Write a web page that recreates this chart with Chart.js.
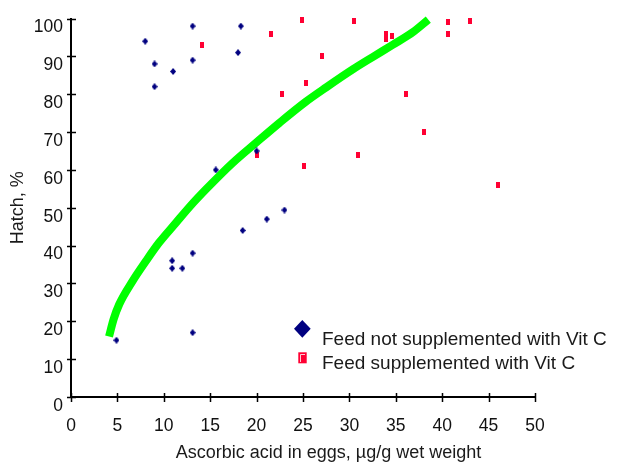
<!DOCTYPE html>
<html lang="en">
<head>
   <meta charset="UTF-8">
   <title>Hatch vs ascorbic acid</title>
   <script src="https://cdn.jsdelivr.net/npm/chart.js"></script>
   <style>
       body { margin: 0; background: #fff; }
       #wrap { width: 617px; height: 464px; }
   </style>
</head>
<body>
   <div id="wrap">
       <canvas id="hatchChart" width="617" height="464"></canvas>
   </div>

   <script>
       // values
       const notSuppX = [8, 9, 9, 11, 13.1, 13.1, 18.3, 18, 20, 15.6, 18.5, 21.1, 23, 10.9, 10.9, 12, 13.1, 13.1, 4.9];
       const notSuppY = [94, 88, 82, 86, 98, 89, 98, 91, 65, 60, 44, 47, 49.4, 36, 34, 34, 38, 17, 15];

       const suppX = [14.1, 21.6, 24.9, 25.3, 22.7, 20, 25.1, 30.5, 33.9, 33.9, 34.6, 40.6, 40.6, 43, 27, 36.1, 38, 30.9, 46];
       const suppY = [93, 96, 99.7, 83, 80, 64, 61, 99.4, 96, 94.5, 95.5, 99, 96, 99.4, 90, 80, 70, 64, 56];

       // fitted trend line
       const trendX = [4.1, 4.6, 5.2, 6.6, 8.1, 9.5, 11.3, 12.8, 14.6, 17.4, 20.0, 22.5, 25.3, 27.5, 30.4, 32.5, 34.7, 36.9, 38.5];
       const trendY = [16, 20.6, 24.5, 30.5, 36, 40.8, 46, 50.3, 55, 61.8, 67.3, 72.5, 78, 81.8, 86.6, 89.8, 93.1, 96.5, 99.7];

       const xTicks = [0, 5, 10, 15, 20, 25, 30, 35, 40, 45, 50];
       const yTicks = [0, 10, 20, 30, 40, 50, 60, 70, 80, 90, 100];

       const seriesNames = ['Feed not supplemented with Vit C', 'Feed supplemented with Vit C'];
       const xTitle = 'Ascorbic acid in eggs, \u00b5g/g wet weight';
       const yTitle = 'Hatch, %';

       const NAVY = '#000080';
       const RED = '#ff0033';
       const FONT = '"Liberation Sans", Arial, sans-serif';

       function toPoints(xs, ys) {
           return xs.map((x, i) => ({ x: x, y: ys[i] }));
       }

       // small marker images
       function diamond(w, h, color) {
           const c = document.createElement('canvas');
           c.width = w; c.height = h;
           const g = c.getContext('2d');
           g.fillStyle = color;
           g.beginPath();
           g.moveTo(w / 2, 0);
           g.lineTo(w, h / 2);
           g.lineTo(w / 2, h);
           g.lineTo(0, h / 2);
           g.closePath();
           g.fill();
           return c;
       }

       function block(w, h, color) {
           const c = document.createElement('canvas');
           c.width = w; c.height = h;
           const g = c.getContext('2d');
           g.fillStyle = color;
           g.fillRect(0, 0, w, h);
           return c;
       }

       // ticks that cross the axes, the legend and the x title
       const extras = {
           id: 'extras',
           afterDraw(chart) {
               const ctx = chart.ctx;
               const xs = chart.scales.x, ys = chart.scales.y;
               const area = chart.chartArea;
               ctx.save();
               ctx.strokeStyle = '#000';
               ctx.lineWidth = 1.5;
               ctx.beginPath();
               xTicks.forEach(v => {
                   const px = Math.round(xs.getPixelForValue(v)) + 0.5;
                   ctx.moveTo(px, area.bottom - 4);
                   ctx.lineTo(px, area.bottom + 5);
               });
               yTicks.forEach(v => {
                   const py = Math.round(ys.getPixelForValue(v)) + 0.5;
                   ctx.moveTo(area.left - 4, py);
                   ctx.lineTo(area.left + 5, py);
               });
               ctx.stroke();

               // legend
               ctx.fillStyle = NAVY;
               ctx.beginPath();
               ctx.moveTo(302.3, 320);
               ctx.lineTo(310.7, 328.8);
               ctx.lineTo(302.3, 337.7);
               ctx.lineTo(294, 328.8);
               ctx.closePath();
               ctx.fill();

               ctx.fillStyle = RED;
               ctx.fillRect(298.3, 352.3, 8.4, 11);
               ctx.strokeStyle = 'rgba(255,255,255,0.8)';
               ctx.lineWidth = 1;
               ctx.beginPath();
               ctx.moveTo(300.5, 362);
               ctx.lineTo(300.5, 354.5);
               ctx.lineTo(305, 354.5);
               ctx.stroke();

               ctx.fillStyle = '#1a1a1a';
               ctx.font = '19px ' + FONT;
               ctx.textAlign = 'left';
               ctx.textBaseline = 'alphabetic';
               ctx.fillText(seriesNames[0], 322, 345);
               ctx.fillText(seriesNames[1], 322, 368.5);

               // x axis title
               ctx.font = '18px ' + FONT;
               ctx.textAlign = 'center';
               ctx.fillText(xTitle, 328.5, 458);
               ctx.restore();
           }
       };

       const ctx = document.getElementById('hatchChart').getContext('2d');

       new Chart(ctx, {
           type: 'scatter',
           data: {
               datasets: [{
                   label: seriesNames[0],
                   data: toPoints(notSuppX, notSuppY),
                   pointStyle: diamond(6, 7, NAVY),
                   pointRadius: 3,
                   clip: false
               }, {
                   label: seriesNames[1],
                   data: toPoints(suppX, suppY),
                   pointStyle: block(4, 6, RED),
                   pointRadius: 3,
                   clip: false
               }, {
                   label: 'Trend',
                   data: toPoints(trendX, trendY),
                   showLine: true,
                   borderColor: '#00ff00',
                   borderWidth: 8,
                   borderCapStyle: 'butt',
                   cubicInterpolationMode: 'monotone',
                   pointRadius: 0,
                   clip: false
               }]
           },
           options: {
               responsive: false,
               animation: false,
               events: [],
               layout: {
                   padding: { top: 15, right: 82, left: 0, bottom: 0 }
               },
               plugins: {
                   legend: { display: false },
                   tooltip: { enabled: false }
               },
               scales: {
                   x: {
                       type: 'linear',
                       min: 0,
                       max: 50,
                       afterFit: function(scale) { scale.height = 67; },
                       afterBuildTicks: function(scale) {
                           scale.ticks = xTicks.map(v => ({ value: v }));
                       },
                       grid: { display: false, drawTicks: false },
                       border: { display: true, color: '#000', width: 2 },
                       ticks: {
                           padding: 19,
                           color: '#111',
                           font: { family: FONT, size: 17.5 }
                       }
                   },
                   y: {
                       type: 'linear',
                       min: 0,
                       max: 100,
                       afterFit: function(scale) { scale.width = 71; },
                       afterBuildTicks: function(scale) {
                           scale.ticks = yTicks.map(v => ({ value: v }));
                       },
                       grid: { display: false, drawTicks: false },
                       border: { display: true, color: '#000', width: 2 },
                       ticks: {
                           padding: 8,
                           labelOffset: 9,
                           color: '#111',
                           font: { family: FONT, size: 17.5 }
                       },
                       title: {
                           display: true,
                           text: yTitle,
                           color: '#1a1a1a',
                           padding: { top: 7, bottom: 0 },
                           font: { family: FONT, size: 18 }
                       }
                   }
               }
           },
           plugins: [extras]
       });
   </script>
</body>
</html>
